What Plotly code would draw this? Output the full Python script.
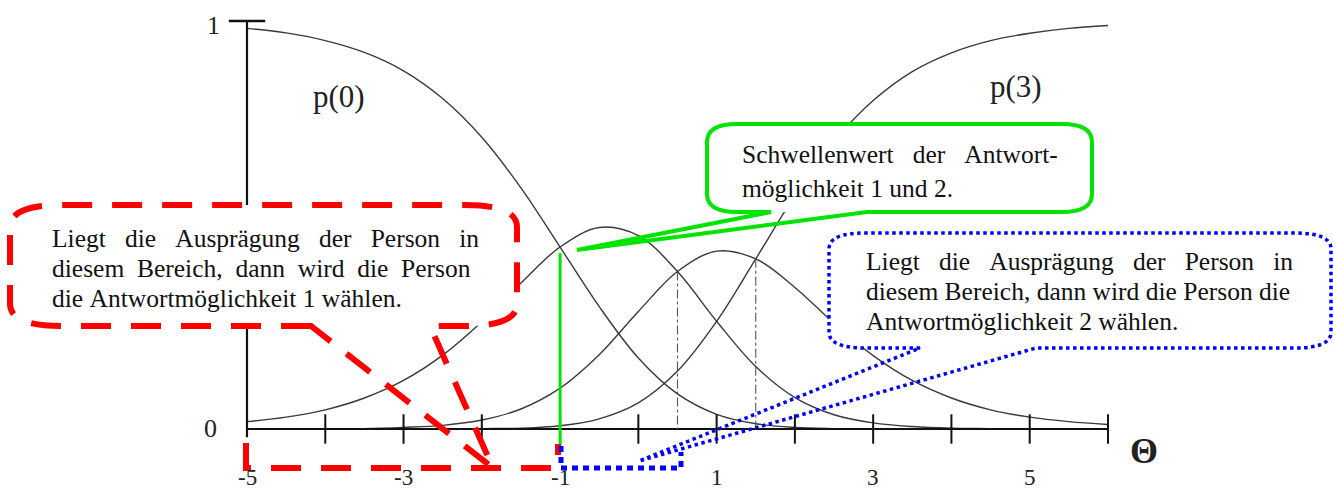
import plotly.graph_objects as go

# Kategorie-Wahrscheinlichkeiten (Partial-Credit-Modell)
theta = [-5, -4.5, -4, -3.5, -3, -2.5, -2, -1.5, -1, -0.5, 0, 0.5, 1,
         1.5, 2, 2.5, 3, 3.5, 4, 4.5, 5, 5.5, 6]
p0 = [0.982, 0.971, 0.952, 0.923, 0.878, 0.810, 0.715, 0.591, 0.446, 0.300, 0.174, 0.086,
      0.036, 0.013, 0.004, 0.001, 0.0, 0.0, 0.0, 0.0, 0.0, 0.0, 0.0]
p1 = [0.018, 0.029, 0.047, 0.076, 0.119, 0.181, 0.263, 0.358, 0.446, 0.494, 0.474, 0.386,
      0.264, 0.153, 0.077, 0.035, 0.015, 0.006, 0.002, 0.001, 0.0, 0.0, 0.0]
p2 = [0.0, 0.0, 0.001, 0.001, 0.004, 0.009, 0.022, 0.049, 0.100, 0.182, 0.288, 0.386,
      0.436, 0.417, 0.347, 0.259, 0.180, 0.119, 0.076, 0.047, 0.029, 0.018, 0.011]
p3 = [0.0, 0.0, 0.0, 0.0, 0.0, 0.0, 0.001, 0.002, 0.008, 0.025, 0.064, 0.142,
      0.264, 0.417, 0.572, 0.705, 0.805, 0.876, 0.922, 0.952, 0.970, 0.982, 0.989]

# Schwellen (Schnittpunkte benachbarter Kurven)
thresholds = [-1.0, 0.5, 1.5]
threshold_heights = [0.446, 0.386, 0.417]

tick_pos = [-4, -3, -2, -1, 0, 1, 2, 3, 4, 5, 6]
label_pos = [-5, -3, -1, 1, 3, 5]
label_text = ["-5", "-3", "-1", "1", "3", "5"]

W, H = 1333, 490
# Kalibrierung: theta=-5 bei 247px, 78.27px pro Einheit; p=0 bei 429px, 408px pro Einheit
X0, UX = 247, 78.27
Y0, UY = 429, 408
x_range = [-5 - X0 / UX, -5 + (W - X0) / UX]
y_range = [-(H - Y0) / UY, Y0 / UY]

SERIF = "Liberation Serif"
CURVE = "#3a3a3a"
RED, GREEN, BLUE = "#ff0000", "#00e400", "#0000ff"


def X(px):
    return px / W


def Y(py):
    return 1 - py / H


fig = go.Figure()

# Kurven
for p in (p0, p1, p2, p3):
    fig.add_trace(go.Scatter(x=theta, y=p, mode="lines", line_shape="spline",
                             line=dict(color=CURVE, width=1.4), hoverinfo="skip"))

# Achsen
fig.add_trace(go.Scatter(x=[-5, 6], y=[0, 0], mode="lines",
                         line=dict(color="#111", width=2.2)))
fig.add_trace(go.Scatter(x=[-5, -5], y=[-0.02, 1.0], mode="lines",
                         line=dict(color="#111", width=2.2)))
fig.add_trace(go.Scatter(x=tick_pos, y=[0] * len(tick_pos), mode="markers",
                         marker=dict(symbol="line-ns", size=21,
                                     line=dict(color="#111", width=2))))
fig.add_trace(go.Scatter(x=[-5], y=[1.0], mode="markers",
                         marker=dict(symbol="line-ew", size=26,
                                     line=dict(color="#111", width=2.4))))

# Strichpunkt-Linien an den Schwellen 2 und 3
for t, h in zip(thresholds[1:], threshold_heights[1:]):
    fig.add_trace(go.Scatter(x=[t, t], y=[h, 0], mode="lines",
                             line=dict(color="#555", width=1.1, dash="dashdot")))

# gruene Linie an Schwelle 1
fig.add_trace(go.Scatter(x=[thresholds[0], thresholds[0]], y=[threshold_heights[0] - 0.015, -0.04],
                         mode="lines", line=dict(color=GREEN, width=3)))

annotations = []
for v, t in zip(label_pos, label_text):
    annotations.append(dict(x=v, y=-0.12, xref="x", yref="y", text=t, showarrow=False,
                            font=dict(family=SERIF, size=23, color="#222")))
annotations += [
    dict(x=-5.47, y=0.002, text="0", size=26), dict(x=-5.43, y=0.99, text="1", size=26),
    dict(x=-3.82, y=0.815, text="p(0)", size=31), dict(x=4.82, y=0.84, text="p(3)", size=31),
    dict(x=6.46, y=-0.055, text="<b>Θ</b>", size=36),
]
for a in annotations[len(label_pos):]:
    a.update(xref="x", yref="y", showarrow=False,
             font=dict(family=SERIF, size=a.pop("size", 22), color="#222"))

NB = "\u00a0"


def text_lines(lines, x, ys, size=25.5):
    for line, y in zip(lines, ys):
        annotations.append(dict(x=X(x), y=Y(y), xref="paper", yref="paper", text=line.replace(" ", NB),
                                xanchor="left", yanchor="middle", showarrow=False,
                                font=dict(family=SERIF, size=size, color="#111")))


text_lines(["Liegt   die   Ausprägung   der   Person   in",
            "diesem  Bereich,  dann  wird  die  Person",
            "die Antwortmöglichkeit 1 wählen."], 50, [238, 268, 298])
text_lines(["Schwellenwert   der   Antwort-",
            "möglichkeit 1 und 2."], 740, [154, 189])
text_lines(["Liegt   die   Ausprägung   der   Person   in",
            "diesem Bereich, dann wird die Person die",
            "Antwortmöglichkeit 2 wählen."], 864, [261, 291, 321])


def rounded(l, t, r, b, rx, ry):
    return (f"M{X(l + rx)},{Y(b)} Q{X(l)},{Y(b)} {X(l)},{Y(b - ry)} L{X(l)},{Y(t + ry)} "
            f"Q{X(l)},{Y(t)} {X(l + rx)},{Y(t)} L{X(r - rx)},{Y(t)} Q{X(r)},{Y(t)} {X(r)},{Y(t + ry)} "
            f"L{X(r)},{Y(b - ry)} Q{X(r)},{Y(b)} {X(r - rx)},{Y(b)} Z")


def callout(l, t, r, b, rx, ry, a1, a2, tip):
    return (f"M{X(a1)},{Y(b)} L{X(l + rx)},{Y(b)} Q{X(l)},{Y(b)} {X(l)},{Y(b - ry)} "
            f"L{X(l)},{Y(t + ry)} Q{X(l)},{Y(t)} {X(l + rx)},{Y(t)} L{X(r - rx)},{Y(t)} "
            f"Q{X(r)},{Y(t)} {X(r)},{Y(t + ry)} L{X(r)},{Y(b - ry)} Q{X(r)},{Y(b)} {X(r - rx)},{Y(b)} "
            f"L{X(a2)},{Y(b)} L{X(tip[0])},{Y(tip[1])} Z")


def poly(pts):
    return "M" + " L".join(f"{X(a)},{Y(b)}" for a, b in pts)


shapes = []
boxes = [
    # l, t, r, b, rx, ry, a1, a2, tip, color, width, dash
    (10, 205, 517, 326, 52, 22, 311, 430, (493, 468), RED, 6, "30px,20px"),
    (707, 124, 1092, 212, 30, 18, 771, 867, (577, 250), GREEN, 4, "solid"),
    (829, 233, 1331, 348, 36, 16, 920, 1036, (639, 461), BLUE, 3.5, "3.5px,3.5px"),
]
for l, t, r, b, rx, ry, a1, a2, tip, col, lw, dash in boxes:
    shapes.append(dict(type="path", xref="paper", yref="paper", path=rounded(l, t, r, b, rx, ry),
                       fillcolor="white", line=dict(width=0), layer="above"))
    shapes.append(dict(type="path", xref="paper", yref="paper", path=callout(l, t, r, b, rx, ry, a1, a2, tip),
                       line=dict(color=col, width=lw, dash=dash), layer="above"))

# Klammern unter der Achse
shapes.append(dict(type="path", xref="paper", yref="paper",
                   path=poly([(246, 443), (246, 468), (558, 468), (558, 444)]),
                   line=dict(color=RED, width=6, dash="30px,20px")))
shapes.append(dict(type="path", xref="paper", yref="paper",
                   path=poly([(561, 446), (561, 468), (681, 468), (681, 452)]),
                   line=dict(color=BLUE, width=5, dash="6px,5px")))

fig.update_layout(
    width=W, height=H, margin=dict(l=0, r=0, t=0, b=0),
    paper_bgcolor="white", plot_bgcolor="white", showlegend=False,
    xaxis=dict(range=x_range, visible=False, fixedrange=True),
    yaxis=dict(range=y_range, visible=False, fixedrange=True),
    shapes=shapes, annotations=annotations,
)

fig.write_html("out.html", config={"displayModeBar": False},
               post_script="document.body.style.margin='0';")
